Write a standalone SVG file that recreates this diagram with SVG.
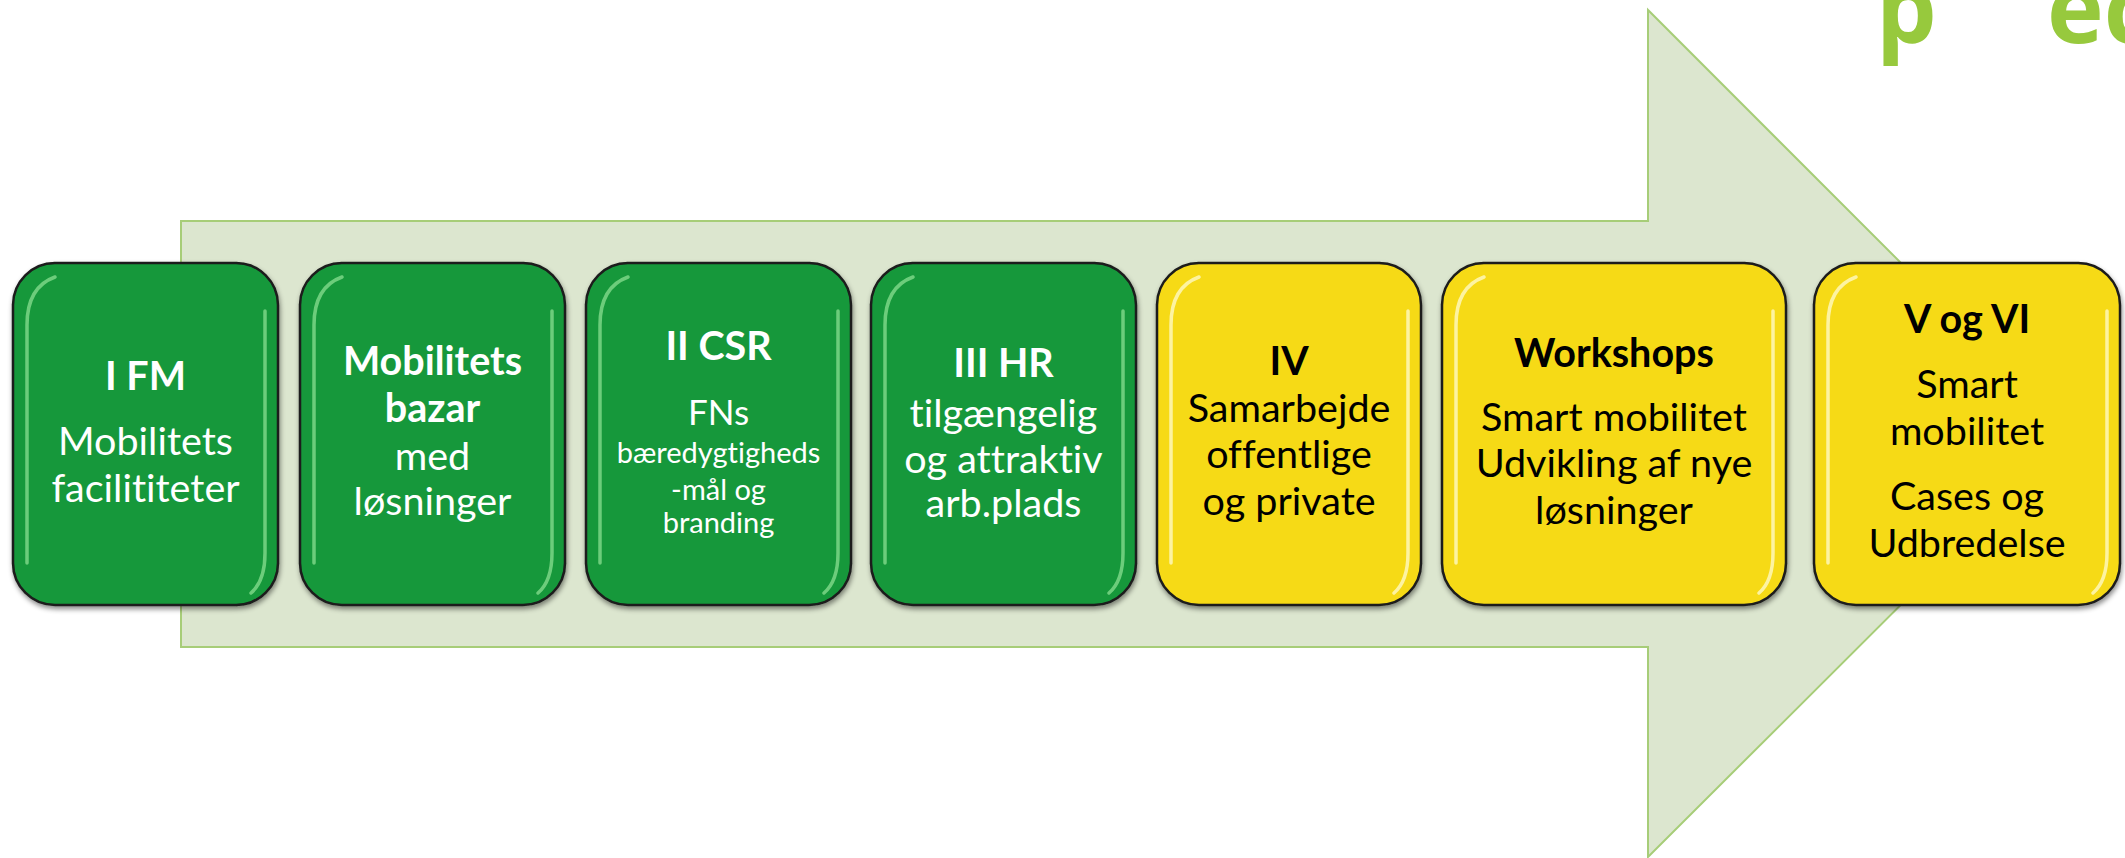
<svg xmlns="http://www.w3.org/2000/svg" width="2125" height="858" viewBox="0 0 2125 858">
<defs>
<style>
.box{stroke:#1b1b1b;stroke-width:2.5}
.g{fill:#17983b}
.y{fill:#f6da18}
.hg{fill:none;stroke:#a6f0a6;stroke-width:3.5;stroke-linecap:round;opacity:0.6}
.hy{fill:none;stroke:#fffbd0;stroke-width:3.5;stroke-linecap:round;opacity:0.75}
.t{font-family:Lato,"Open Sans",sans-serif;text-anchor:middle;font-size:39.5px;font-variant-ligatures:none}
.w{fill:#ffffff}
.k{fill:#000000}
.b{font-weight:bold}
.s{font-size:29px}
.m{font-size:35px}
.logo{font-family:"Open Sans",Lato,sans-serif;font-weight:bold;font-size:96px;fill:#97c93d}
</style>
<filter id="sh" x="-10%" y="-10%" width="120%" height="120%">
<feDropShadow dx="1" dy="3" stdDeviation="2.5" flood-color="#000" flood-opacity="0.45"/>
</filter>
</defs>
<rect width="2125" height="858" fill="#ffffff"/>
<g id="logo">
<text class="logo" x="1876" y="43">p</text>
<text class="logo" x="2047" y="43">ec</text>
</g>
<g id="connectors">
<polygon id="arrow" points="181,221 1648,221 1648,10 2072,434 1648,857 1648,647 181,647" fill="#dce6cf" stroke="#a7cd78" stroke-width="2"/>
</g>
<g id="node1" transform="translate(13,263)">
<rect class="box g" width="265" height="342" rx="42" filter="url(#sh)"/>
<path class="hg" d="M14,300 L14,62 Q14,24 42,14"/>
<path class="hg" d="M252,48 L252,290 Q252,318 238,330"/>
<text class="t w b" x="132.5" y="127">I FM</text>
<text class="t w" x="132.5" y="192">Mobilitets</text>
<text class="t w" x="132.5" y="239">facilititeter</text>
</g>
<g id="node2" transform="translate(300,263)">
<rect class="box g" width="265" height="342" rx="42" filter="url(#sh)"/>
<path class="hg" d="M14,300 L14,62 Q14,24 42,14"/>
<path class="hg" d="M252,48 L252,290 Q252,318 238,330"/>
<text class="t w b" x="132.5" y="112">Mobilitets</text>
<text class="t w b" x="132.5" y="159">bazar</text>
<text class="t w" x="132.5" y="207">med</text>
<text class="t w" x="132.5" y="252">løsninger</text>
</g>
<g id="node3" transform="translate(586,263)">
<rect class="box g" width="265" height="342" rx="42" filter="url(#sh)"/>
<path class="hg" d="M14,300 L14,62 Q14,24 42,14"/>
<path class="hg" d="M252,48 L252,290 Q252,318 238,330"/>
<text class="t w b" x="132.5" y="97">II CSR</text>
<text class="t w m" x="132.5" y="162">FNs</text>
<text class="t w s" x="132.5" y="200">bæredygtigheds</text>
<text class="t w s" x="132.5" y="237">-mål og</text>
<text class="t w s" x="132.5" y="270">branding</text>
</g>
<g id="node4" transform="translate(871,263)">
<rect class="box g" width="265" height="342" rx="42" filter="url(#sh)"/>
<path class="hg" d="M14,300 L14,62 Q14,24 42,14"/>
<path class="hg" d="M252,48 L252,290 Q252,318 238,330"/>
<text class="t w b" x="132.5" y="114">III HR</text>
<text class="t w" x="132.5" y="164">tilgængelig</text>
<text class="t w" x="132.5" y="210">og attraktiv</text>
<text class="t w" x="132.5" y="254">arb.plads</text>
</g>
<g id="node5" transform="translate(1157,263)">
<rect class="box y" width="264" height="342" rx="42" filter="url(#sh)"/>
<path class="hy" d="M14,300 L14,62 Q14,24 42,14"/>
<path class="hy" d="M251,48 L251,290 Q251,318 237,330"/>
<text class="t k b" x="132" y="112">IV</text>
<text class="t k" x="132" y="159">Samarbejde</text>
<text class="t k" x="132" y="205">offentlige</text>
<text class="t k" x="132" y="252">og private</text>
</g>
<g id="node6" transform="translate(1442,263)">
<rect class="box y" width="344" height="342" rx="42" filter="url(#sh)"/>
<path class="hy" d="M14,300 L14,62 Q14,24 42,14"/>
<path class="hy" d="M331,48 L331,290 Q331,318 317,330"/>
<text class="t k b" x="172" y="104">Workshops</text>
<text class="t k" x="172" y="168">Smart mobilitet</text>
<text class="t k" x="172" y="214">Udvikling af nye</text>
<text class="t k" x="172" y="261">løsninger</text>
</g>
<g id="node7" transform="translate(1814,263)">
<rect class="box y" width="306" height="342" rx="42" filter="url(#sh)"/>
<path class="hy" d="M14,300 L14,62 Q14,24 42,14"/>
<path class="hy" d="M293,48 L293,290 Q293,318 279,330"/>
<text class="t k b" x="153" y="70">V og VI</text>
<text class="t k" x="153" y="135">Smart</text>
<text class="t k" x="153" y="182">mobilitet</text>
<text class="t k" x="153" y="247">Cases og</text>
<text class="t k" x="153" y="294">Udbredelse</text>
</g>
</svg>
